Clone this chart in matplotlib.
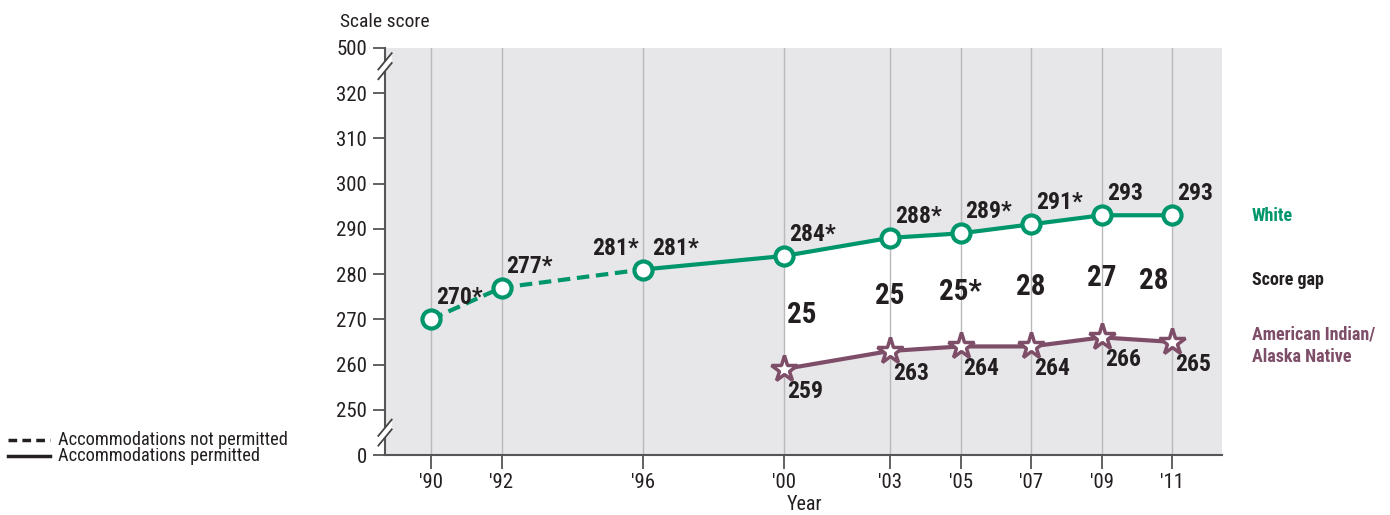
import numpy as np
import matplotlib
matplotlib.use('Agg')
import matplotlib.pyplot as plt
from matplotlib import font_manager
from matplotlib.lines import Line2D

# Data
years_np = [1990, 1992, 1996]           # accommodations not permitted
white_np = [270, 277, 281]
white_np_lbl = ['270*', '277*', '281*']

years_p = [1996, 2000, 2003, 2005, 2007, 2009, 2011]   # accommodations permitted
white_p = [281, 284, 288, 289, 291, 293, 293]
white_p_lbl = ['281*', '284*', '288*', '289*', '291*', '293', '293']

years_ai = [2000, 2003, 2005, 2007, 2009, 2011]
amind = [259, 263, 264, 264, 266, 265]
amind_lbl = ['259', '263', '264', '264', '266', '265']
gap_lbl = ['25', '25', '25*', '28', '27', '28']

xticks = [1990, 1992, 1996, 2000, 2003, 2005, 2007, 2009, 2011]
xticklabels = ["'90", "'92", "'96", "'00", "'03", "'05", "'07", "'09", "'11"]
yticks = [0, 250, 260, 270, 280, 290, 300, 310, 320, 500]

# pick a narrow font if one is there
names = {f.name for f in font_manager.fontManager.ttflist}
family = 'DejaVu Sans'
for cand in ['Liberation Sans Narrow', 'Roboto Condensed', 'Open Sans Condensed']:
    if cand in names:
        family = cand
        break
else:
    if any(f.name == 'DejaVu Sans' and f.stretch == 'condensed' for f in font_manager.fontManager.ttflist):
        plt.rcParams['font.stretch'] = 'condensed'
plt.rcParams['font.family'] = [family, 'DejaVu Sans']

GREEN = '#00966c'
PURPLE = '#7e4d68'
INK = '#231f20'
GRAY_BG = '#e7e7e9'

fig = plt.figure(figsize=(13.9, 5.15), dpi=100)
ax = fig.add_axes([0.277, 0.1165, 0.602, 0.7905])


# broken y axis: 0 and 500 squeezed next to the 250-320 range
def fwd(v):
    return np.interp(v, [0, 250, 320, 500], [240, 250, 320, 330])


def inv(d):
    return np.interp(d, [240, 250, 320, 330], [0, 250, 320, 500])


ax.set_yscale('function', functions=(fwd, inv))
ax.set_ylim(0, 500)
ax.set_xlim(1988.7, 2012.4)
ax.set_facecolor(GRAY_BG)

for y in xticks:
    ax.axvline(y, color='#b9b9bb', lw=1.0, zorder=1)

# white area between the two lines
ax.fill_between(years_ai, white_p[1:], amind, color='white', zorder=0.5, lw=0)

ax.plot(years_np, white_np, color=GREEN, lw=3, ls=(0, (3, 1.6)), zorder=3)
ax.plot(years_p, white_p, color=GREEN, lw=3, zorder=3)
ax.plot(years_np + years_p[1:], white_np + white_p[1:], ls='none', marker='o', ms=13,
        mfc='white', mec=GREEN, mew=3, zorder=4)
ax.plot(years_ai, amind, color=PURPLE, lw=3, marker='*', ms=20, mfc='white',
        mec=PURPLE, mew=2.5, zorder=4)

lbl_kw = dict(textcoords='offset pixels', fontsize=17, fontweight='bold', color=INK)
for x, y, t in zip(years_np, white_np, white_np_lbl):
    if x == 1996:
        ax.annotate(t, (x, y), xytext=(-4, 10), ha='right', va='bottom', **lbl_kw)
    else:
        ax.annotate(t, (x, y), xytext=(5, 10), ha='left', va='bottom', **lbl_kw)
for x, y, t in zip(years_p, white_p, white_p_lbl):
    dx = 9 if x == 1996 else 5
    ax.annotate(t, (x, y), xytext=(dx, 10), ha='left', va='bottom', **lbl_kw)
for x, y, t in zip(years_ai, amind, amind_lbl):
    ax.annotate(t, (x, y), xytext=(3, -11), ha='left', va='top', **lbl_kw)

for i, (x, t) in enumerate(zip(years_ai, gap_lbl)):
    mid = (white_p[i + 1] + amind[i]) / 2
    dx = 18 if i == 0 else (-19 if i == len(years_ai) - 1 else 0)
    ax.annotate(t, (x, mid), xytext=(dx, -2), textcoords='offset pixels', ha='center',
                va='center', fontsize=21, fontweight='bold', color=INK)

# axes styling
for s in ['top', 'right']:
    ax.spines[s].set_visible(False)
for s in ['left', 'bottom']:
    ax.spines[s].set_color('#555555')
    ax.spines[s].set_linewidth(1.5)
ax.set_xticks(xticks)
ax.set_xticklabels(xticklabels)
ax.set_yticks(yticks)
ax.set_yticklabels([str(v) for v in yticks])
ax.tick_params(axis='both', labelsize=15, colors='#555555', labelcolor=INK, width=1.3)
ax.tick_params(axis='y', length=9, pad=4)
ax.tick_params(axis='x', length=10, pad=3)

# break marks on the y axis
for yb in [0.955, 0.055]:
    for off in [-0.012, 0.012]:
        ax.plot([-0.008, 0.008], [yb + off - 0.02, yb + off + 0.02], transform=ax.transAxes,
                color='#444444', lw=1.3, clip_on=False, zorder=6)
    ax.fill([-0.008, 0.008, 0.008, -0.008],
            [yb - 0.012 - 0.02, yb - 0.012 + 0.02, yb + 0.012 + 0.02, yb + 0.012 - 0.02],
            transform=ax.transAxes, color='white', clip_on=False, zorder=5, lw=0)

fig.text(340 / 1390, 1 - 22 / 515, 'Scale score', fontsize=14, color=INK, ha='left', va='center')
fig.text(805 / 1390, 1 - 505 / 515, 'Year', fontsize=14.5, color=INK, ha='center', va='center')

side_kw = dict(fontsize=13, fontweight='bold', va='center')
fig.text(1252 / 1390, 1 - 216 / 515, 'White', color=GREEN, **side_kw)
fig.text(1252 / 1390, 1 - 280 / 515, 'Score gap', color=INK, **side_kw)
fig.text(1252 / 1390, 1 - 346 / 515, 'American Indian/\nAlaska Native', color=PURPLE,
         linespacing=1.3, **side_kw)

# line style key, bottom left
fig.add_artist(Line2D([8 / 1390, 50 / 1390], [1 - 440 / 515] * 2, color=INK, lw=2.5, ls=(0, (2.5, 1.5))))
fig.add_artist(Line2D([8 / 1390, 50 / 1390], [1 - 456 / 515] * 2, color=INK, lw=2.5))
fig.text(58 / 1390, 1 - 440 / 515, 'Accommodations not permitted', fontsize=13.2, color=INK, va='center')
fig.text(58 / 1390, 1 - 456 / 515, 'Accommodations permitted', fontsize=13.2, color=INK, va='center')

fig.savefig('out.png', dpi=100)
